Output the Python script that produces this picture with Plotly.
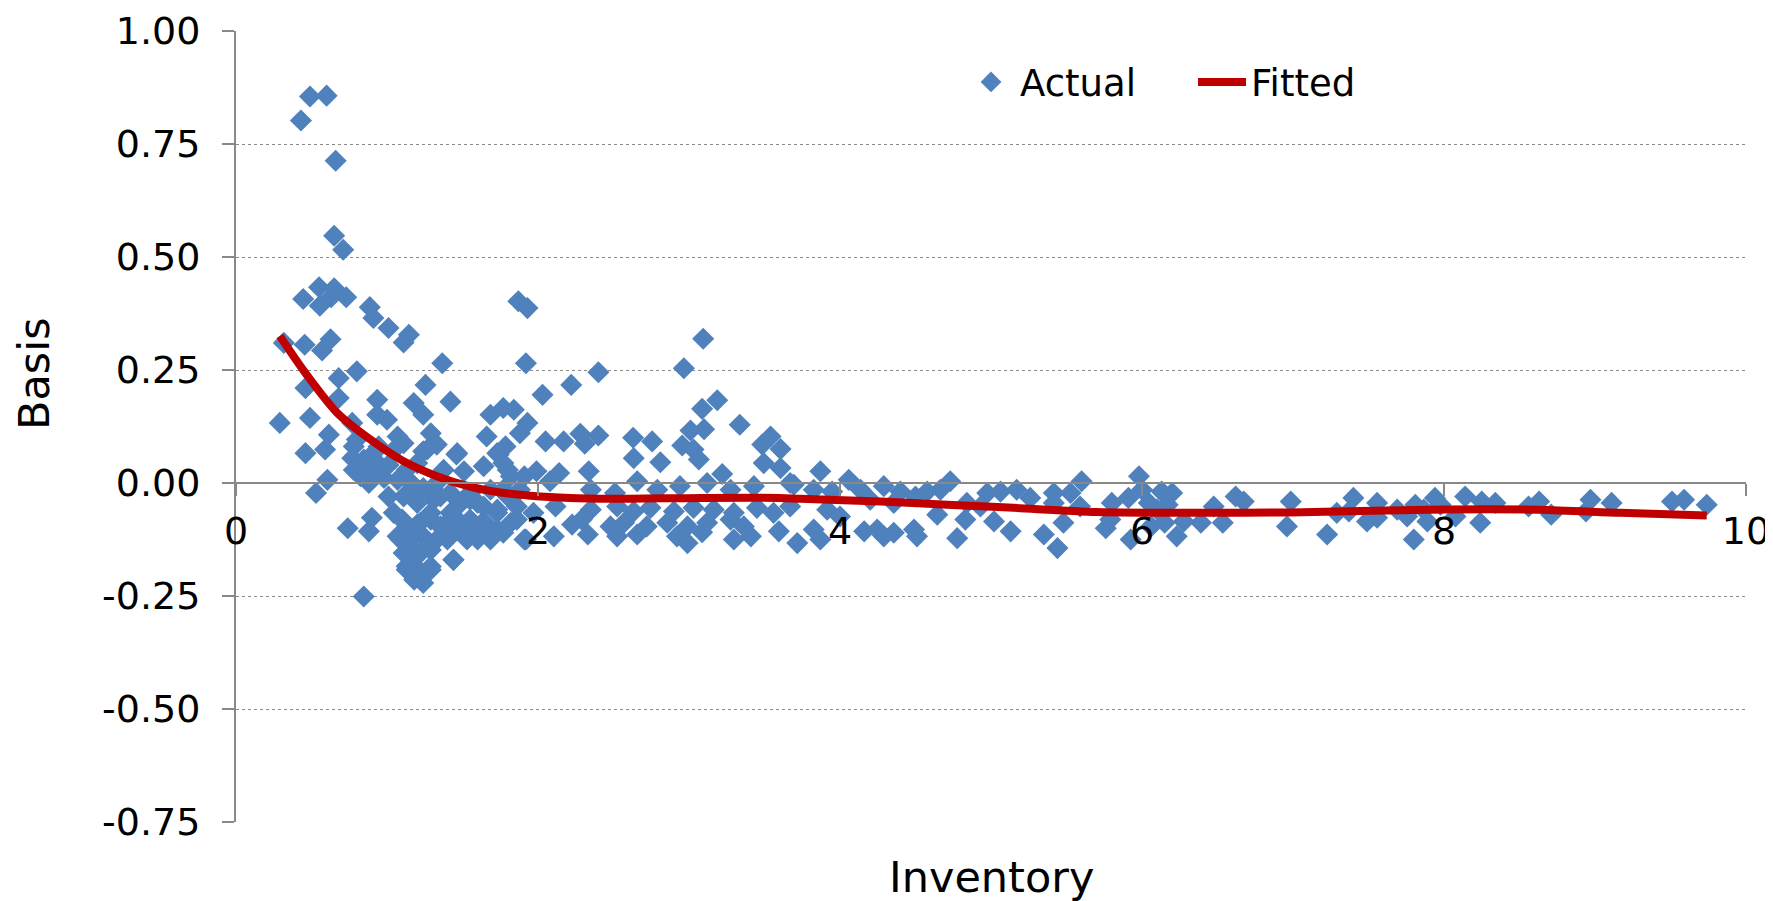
import plotly.graph_objects as go

# ---- Actual (scatter) data ----
act_x_top = [0.49, 0.60, 0.43, 0.66, 0.65, 0.71, 0.445, 0.55, 0.555, 0.65, 0.63, 0.73, 0.886, 0.91,
             1.01, 1.145, 1.11, 1.87, 1.93, 0.317, 0.455, 0.57, 0.626, 1.366, 1.92]
act_y_top = [0.855, 0.857, 0.802, 0.713, 0.547, 0.516, 0.407, 0.433, 0.392, 0.431, 0.411, 0.411, 0.389, 0.365,
             0.343, 0.328, 0.311, 0.402, 0.387, 0.31, 0.306, 0.293, 0.318, 0.265, 0.265]

act_x_low = [0.80, 0.68, 0.46, 1.255, 0.68, 0.935, 1.177, 1.42, 0.29, 0.49, 0.77, 0.935, 1.00, 1.24,
             1.685, 1.77, 1.84, 1.93, 0.615, 0.80, 1.07, 1.29, 1.66, 1.88, 0.46, 0.59, 0.78, 0.945,
             1.11, 1.24, 1.33, 1.46, 1.74, 1.785, 0.77, 0.835, 0.89, 1.01, 1.13, 1.20, 1.375, 1.51,
             1.64, 1.80, 1.91, 0.605, 0.53, 0.825, 0.88, 0.98, 1.16, 1.24, 1.33, 1.42, 1.55, 1.685,
             1.80, 1.88, 1.01, 1.11, 1.20, 1.31, 1.49, 1.60, 1.73, 1.86, 0.74, 0.90, 0.88, 1.045,
             1.11, 1.20, 1.29, 1.375, 1.465, 1.55, 1.64, 1.73, 1.82, 1.92, 1.07, 1.16, 1.24, 1.33,
             1.44, 1.53, 1.62, 1.685, 1.11, 1.20, 1.29, 1.44, 1.13, 1.21, 1.29, 1.18, 1.24, 0.846]
act_y_low = [0.247, 0.232, 0.21, 0.217, 0.188, 0.184, 0.177, 0.18, 0.133, 0.144, 0.133, 0.151, 0.14, 0.151,
             0.151, 0.166, 0.162, 0.133, 0.107, 0.096, 0.103, 0.11, 0.103, 0.11, 0.066, 0.074, 0.081, 0.081,
             0.088, 0.07, 0.085, 0.063, 0.063, 0.081, 0.055, 0.037, 0.055, 0.04, 0.029, 0.044, 0.029, 0.026,
             0.037, 0.029, 0.015, 0.007, -0.022, 0.015, 0.0, 0.011, 0.0, -0.011, 0.0, -0.022, -0.022, -0.015,
             -0.03, -0.015, -0.03, -0.03, -0.044, -0.037, -0.044, -0.044, -0.059, -0.052, -0.1, -0.077, -0.107, -0.066,
             -0.085, -0.092, -0.081, -0.096, -0.081, -0.096, -0.085, -0.103, -0.088, -0.125, -0.118, -0.125, -0.118, -0.125,
             -0.11, -0.125, -0.11, -0.125, -0.155, -0.155, -0.148, -0.17, -0.192, -0.192, -0.185, -0.214, -0.221, -0.251]

act_x_blob = [0.78, 0.89, 1.10, 1.09, 1.155, 1.13, 1.20, 1.22, 1.29, 1.266, 1.22, 1.29, 1.354,
              1.40, 1.44, 1.42, 1.51, 1.55, 1.60, 1.66, 1.73, 1.77, 1.86, 1.91, 1.29, 1.18,
              1.07, 0.96, 0.87, 1.354, 1.55, 1.64, 1.77, 1.82, 1.77, 1.73, 1.465, 1.266,
              1.07, 0.91, 0.846]
act_y_blob = [0.029, 0.007, -0.081, -0.125, -0.11, -0.184, -0.162, -0.214, -0.192, -0.14, -0.088, -0.066, -0.096,
              -0.125, -0.17, -0.066, -0.11, -0.081, -0.125, -0.096, -0.066, -0.11, -0.081, -0.125, -0.022, -0.007,
              0.007, 0.037, 0.022, -0.03, -0.037, -0.052, -0.015, 0.015, 0.044, 0.066, 0.066, 0.074,
              0.081, 0.066, 0.052]

act_x_mid = [3.094, 2.966, 2.40, 2.22, 2.03, 3.187, 3.087, 3.336, 3.01, 3.10, 2.05, 2.17, 2.28, 2.31,
             2.40, 2.63, 2.756, 2.955, 3.03, 3.54, 3.485, 3.606, 2.634, 2.81, 3.065, 3.495, 3.606, 1.99,
             2.14, 2.336, 3.22, 3.67, 2.08, 2.35, 2.51, 2.657, 2.79, 2.94, 3.12, 3.275, 3.43, 3.694,
             1.97, 2.116, 2.35, 2.524, 2.634, 2.745, 2.9, 3.03, 3.164, 3.297, 3.45, 3.56, 3.67, 2.226,
             2.29, 2.48, 2.57, 2.72, 2.856, 2.99, 3.12, 3.275, 3.363, 2.105, 2.33, 2.524, 2.657, 2.92,
             2.99, 3.087, 3.297, 3.41, 3.595, 3.717]
act_y_mid = [0.319, 0.254, 0.245, 0.217, 0.195, 0.183, 0.164, 0.129, 0.116, 0.119, 0.092, 0.092, 0.109, 0.087,
             0.105, 0.1, 0.092, 0.083, 0.074, 0.103, 0.085, 0.075, 0.055, 0.046, 0.052, 0.044, 0.033, 0.026,
             0.022, 0.026, 0.02, 0.0, 0.004, -0.015, -0.022, 0.004, -0.015, -0.007, 0.0, -0.015, -0.007, -0.004,
             -0.066, -0.052, -0.059, -0.052, -0.063, -0.055, -0.063, -0.055, -0.059, -0.066, -0.055, -0.066, -0.052, -0.092,
             -0.081, -0.096, -0.088, -0.096, -0.088, -0.096, -0.088, -0.081, -0.096, -0.118, -0.114, -0.118, -0.114, -0.118,
             -0.133, -0.109, -0.125, -0.118, -0.107, -0.133]

act_x_right = [3.87, 4.058, 4.29, 4.73, 4.665, 5.60, 3.826, 3.948, 4.136, 4.40, 4.50, 4.577, 4.975, 5.063,
               5.17, 5.26, 5.416, 5.527, 3.915, 4.00, 4.20, 4.356, 4.84, 4.93, 5.59, 4.644, 4.83, 5.02,
               5.416, 5.48, 3.826, 3.87, 4.16, 4.246, 4.29, 4.356, 4.49, 4.51, 4.776, 5.13, 5.35, 5.44,
               5.98, 6.0, 5.91, 5.80, 6.13, 6.20, 6.17, 6.10, 6.045, 6.62, 6.674, 6.475, 6.985, 5.76,
               5.925, 5.79, 6.06, 6.15, 6.23, 6.277, 6.39, 6.535, 6.96, 7.226, 7.29, 7.40, 7.37, 7.49,
               7.557, 7.557, 7.69, 7.756, 7.81, 7.80, 7.89, 7.94, 7.977, 7.866, 8.076, 8.14, 8.25, 8.34,
               8.24, 8.56, 8.63, 8.71, 8.97, 8.94, 9.11, 9.51, 9.59, 9.74]
act_y_right = [0.026, 0.007, -0.007, 0.004, -0.015, 0.004, -0.015, -0.019, -0.015, -0.019, -0.03, -0.019, -0.022, -0.019,
               -0.015, -0.033, -0.022, -0.022, -0.059, -0.074, -0.037, -0.044, -0.044, -0.052, -0.052, -0.07, -0.081, -0.085,
               -0.044, -0.088, -0.103, -0.125, -0.107, -0.103, -0.118, -0.11, -0.103, -0.118, -0.122, -0.107, -0.114, -0.144,
               0.015, -0.015, -0.033, -0.044, -0.019, -0.022, -0.048, -0.059, -0.044, -0.03, -0.041, -0.052, -0.041, -0.1,
               -0.125, -0.081, -0.096, -0.088, -0.118, -0.085, -0.088, -0.088, -0.096, -0.114, -0.066, -0.033, -0.063, -0.085,
               -0.044, -0.077, -0.059, -0.074, -0.048, -0.125, -0.085, -0.033, -0.048, -0.059, -0.074, -0.03, -0.041, -0.044,
               -0.088, -0.052, -0.041, -0.07, -0.037, -0.063, -0.044, -0.041, -0.037, -0.048]

actual_x = act_x_top + act_x_low + act_x_blob + act_x_mid + act_x_right
actual_y = act_y_top + act_y_low + act_y_blob + act_y_mid + act_y_right

# ---- Fitted curve ----
fit_x = [0.29, 0.46, 0.67, 0.89, 1.11, 1.33, 1.55, 1.75, 1.95, 2.08, 2.41, 3.08, 3.6, 3.74,
         4.27, 4.71, 5.15, 5.7, 6.32, 6.98, 7.9, 8.62, 9.17, 9.74]
fit_y = [0.325, 0.243, 0.155, 0.096, 0.048, 0.015, -0.008, -0.021, -0.028, -0.031, -0.035, -0.033, -0.033, -0.035,
         -0.041, -0.048, -0.055, -0.064, -0.066, -0.065, -0.059, -0.059, -0.066, -0.072]

x_ticks = [0, 2, 4, 6, 8, 10]
y_ticks = [-0.75, -0.5, -0.25, 0.0, 0.25, 0.5, 0.75, 1.0]
y_ticklabels = ["-0.75", "-0.50", "-0.25", "0.00", "0.25", "0.50", "0.75", "1.00"]

FONT = "DejaVu Sans"
AX = "#888888"
TICKSIZE = 38

fig = go.Figure()
fig.add_trace(go.Scatter(
    x=actual_x, y=actual_y, mode="markers", name="Actual",
    marker=dict(symbol="diamond", size=17, color="#4F81BD", line=dict(width=0)),
))
fig.add_trace(go.Scatter(
    x=fit_x, y=fit_y, mode="lines", name="Fitted",
    line=dict(color="#C00000", width=8, shape="spline", smoothing=0.8),
))

# the page body has an 8px default margin, so the figure is sized/offset to compensate
fig.update_layout(
    width=1765, height=893,
    margin=dict(l=228, r=27, t=23, b=79, autoexpand=False),
    paper_bgcolor="white", plot_bgcolor="white",
    font=dict(family=FONT, size=TICKSIZE, color="black"),
    showlegend=True,
    legend=dict(orientation="h", x=0.4808, xanchor="left", y=0.935, yanchor="middle",
                font=dict(family=FONT, size=37), bgcolor="rgba(0,0,0,0)",
                itemwidth=48,
                entrywidthmode="pixels", entrywidth=168, tracegroupgap=0),
    xaxis=dict(range=[0, 10], tickvals=x_ticks, ticktext=[str(v) for v in x_ticks],
               anchor="free", position=0.75 / 1.75, automargin=False,
               showline=True, linecolor=AX, linewidth=2,
               ticks="outside", ticklen=12, tickwidth=2, tickcolor=AX,
               showgrid=False, zeroline=False, ticklabelstandoff=2,
               tickfont=dict(family=FONT, size=TICKSIZE, color="black")),
    yaxis=dict(range=[-0.75, 1.0], tickvals=y_ticks, ticktext=y_ticklabels, automargin=False,
               showline=True, linecolor=AX, linewidth=2,
               ticks="outside", ticklen=12, tickwidth=2, tickcolor=AX,
               showgrid=True, gridcolor="#8a8a8a", gridwidth=1, griddash="dot",
               zeroline=False, ticklabelstandoff=14,
               tickfont=dict(family=FONT, size=TICKSIZE, color="black")),
    annotations=[
        dict(text="Basis", xref="paper", yref="paper", x=-0.1338, y=0.5676,
             textangle=-90, showarrow=False, font=dict(family=FONT, size=43, color="black"),
             xanchor="center", yanchor="middle"),
        dict(text="Inventory", xref="paper", yref="paper", x=0.5, y=-0.0695,
             showarrow=False, font=dict(family=FONT, size=43, color="black"),
             xanchor="center", yanchor="middle"),
    ],
)

fig.write_html("out.html")
